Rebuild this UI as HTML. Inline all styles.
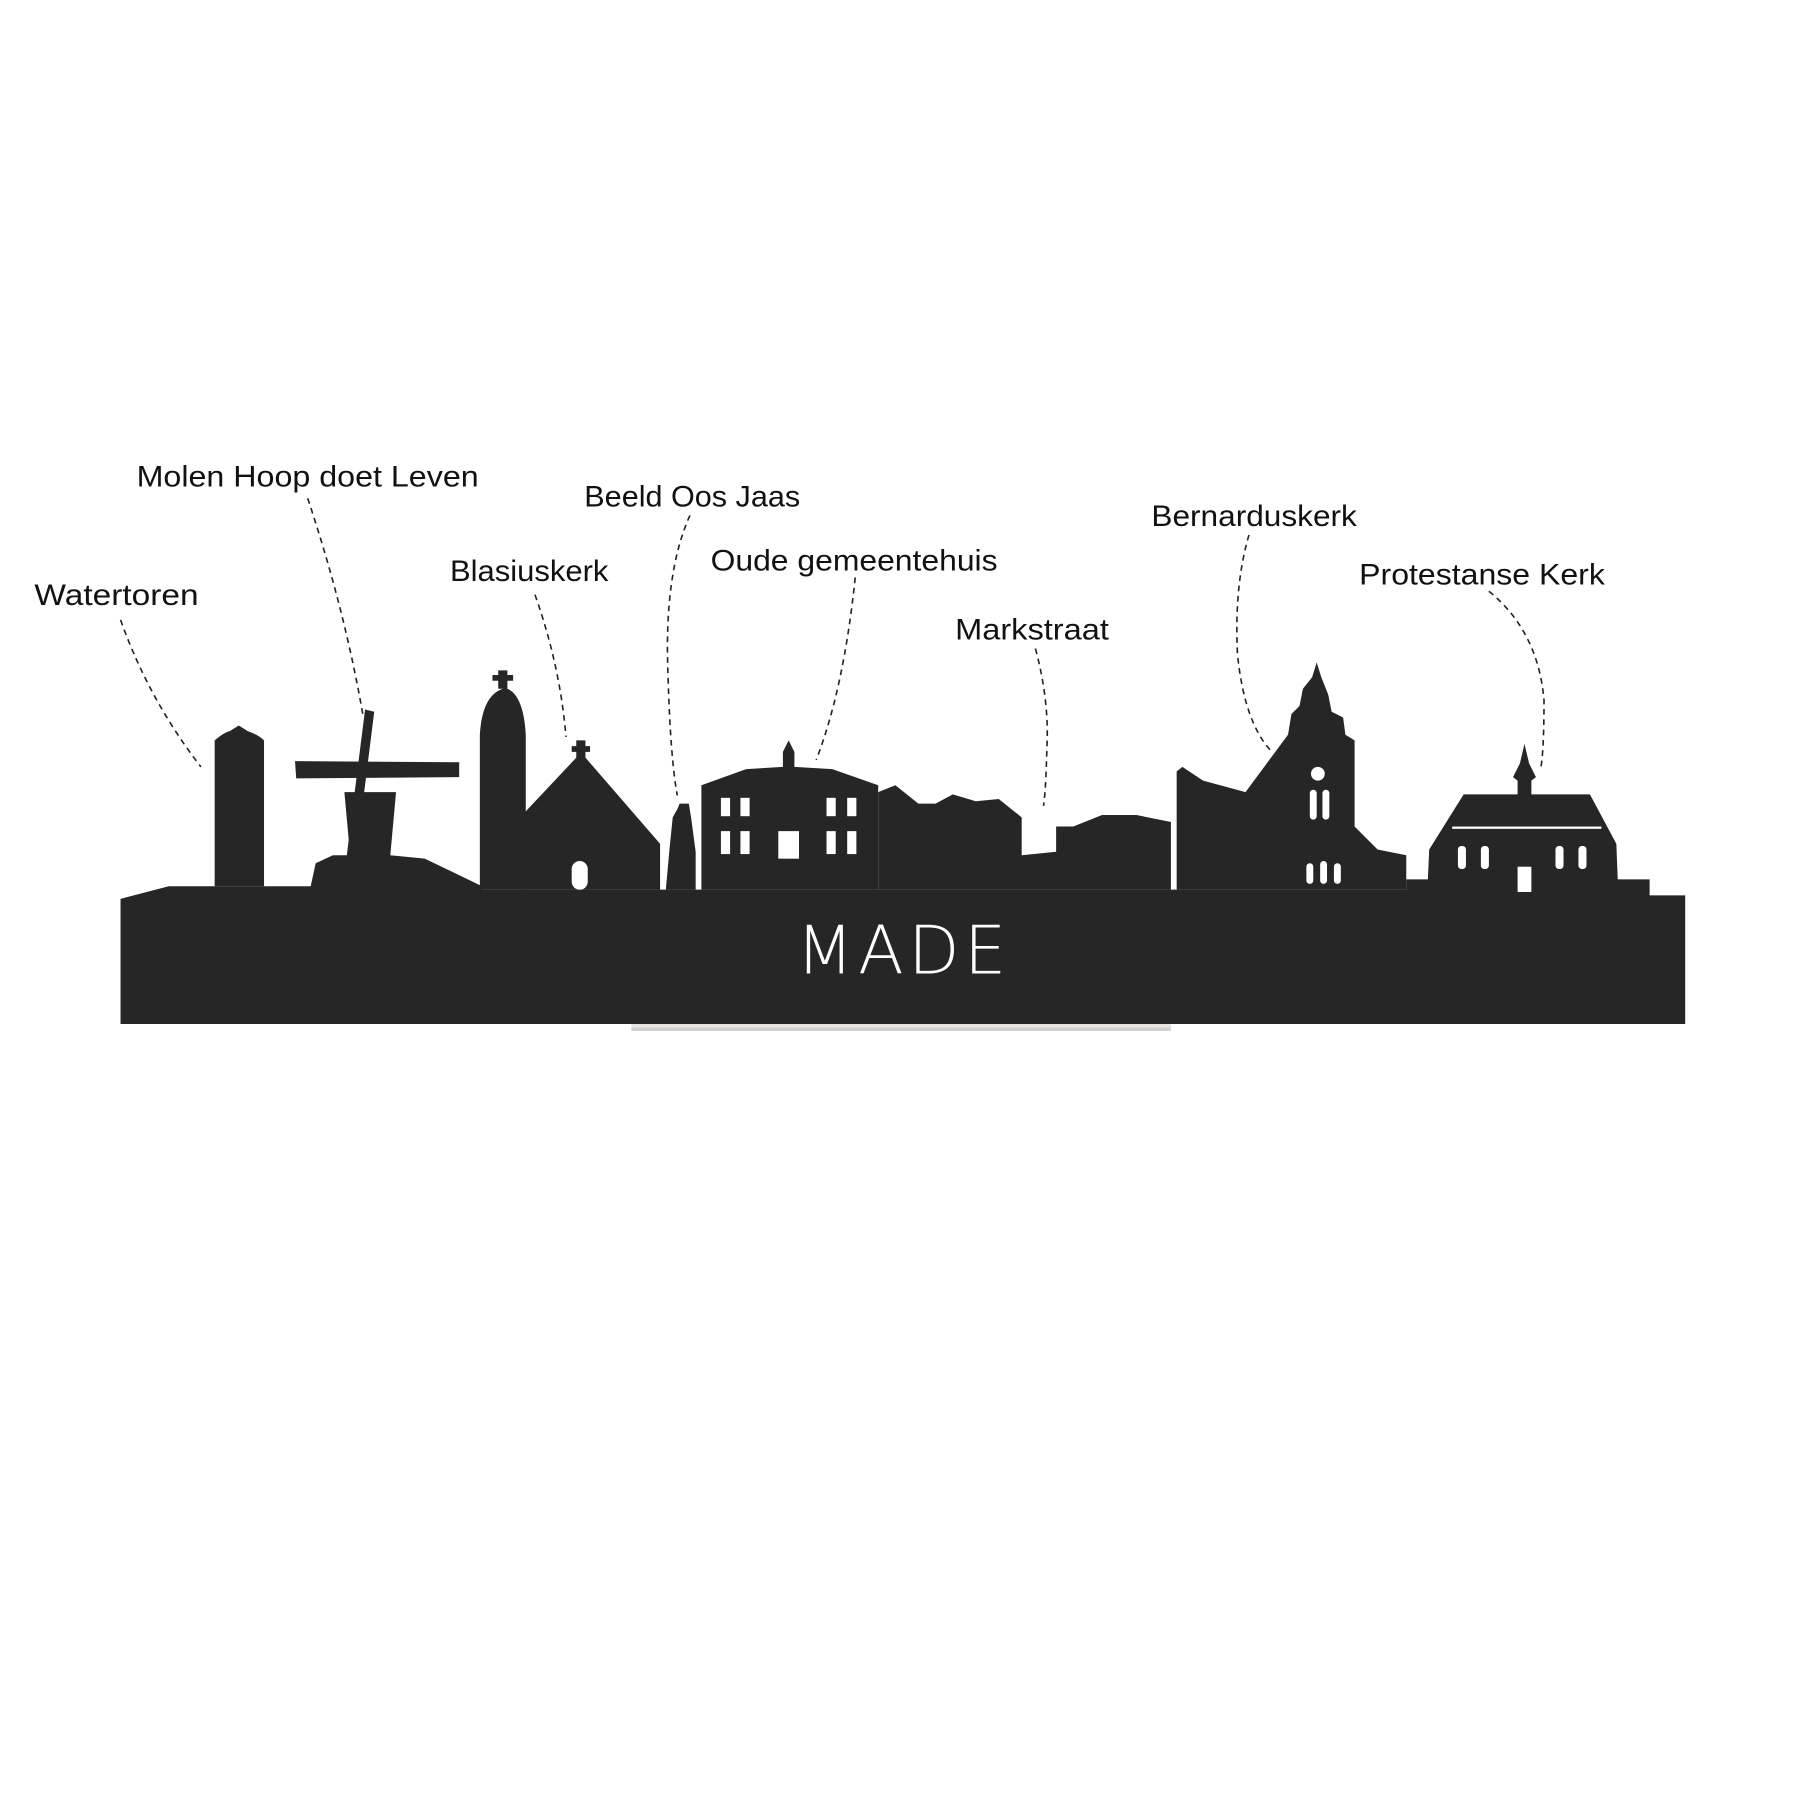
<!DOCTYPE html>
<html><head><meta charset="utf-8"><style>html,body{margin:0;padding:0;background:#fff}svg{display:block}</style></head>
<body>
<svg width="1800" height="1800" viewBox="0 0 1568 1568" xmlns="http://www.w3.org/2000/svg">
<g font-family="Liberation Sans, sans-serif" font-size="26" fill="#111" lengthAdjust="spacingAndGlyphs">
<text x="30" y="527" textLength="143" lengthAdjust="spacingAndGlyphs">Watertoren</text>
<text x="119" y="424" textLength="298" lengthAdjust="spacingAndGlyphs">Molen Hoop doet Leven</text>
<text x="509" y="441" textLength="188" lengthAdjust="spacingAndGlyphs">Beeld Oos Jaas</text>
<text x="392" y="506" textLength="138" lengthAdjust="spacingAndGlyphs">Blasiuskerk</text>
<text x="619" y="497" textLength="250" lengthAdjust="spacingAndGlyphs">Oude gemeentehuis</text>
<text x="832" y="557" textLength="134" lengthAdjust="spacingAndGlyphs">Markstraat</text>
<text x="1003" y="458" textLength="179" lengthAdjust="spacingAndGlyphs">Bernarduskerk</text>
<text x="1184" y="509" textLength="214" lengthAdjust="spacingAndGlyphs">Protestanse Kerk</text>
</g>
<g fill="none" stroke="#222" stroke-width="1.4" stroke-dasharray="5,4">
<path d="M105 540 Q130 610 175 668"/>
<path d="M268 434 Q300 530 316 622"/>
<path d="M466 518 Q488 580 493 642"/>
<path d="M601 449 Q578 500 582 590 Q584 660 590 693"/>
<path d="M745 503 Q735 600 711 662"/>
<path d="M902 565 Q914 610 912 650 Q911 690 909 702"/>
<path d="M1088 466 Q1075 510 1078 570 Q1084 630 1108 655"/>
<path d="M1297 515 Q1340 550 1345 610 Q1345 655 1342 670"/>
</g>
<rect x="550" y="884" width="470" height="14" fill="#e9e4e2"/>
<rect x="550" y="895" width="470" height="3" fill="#cfcfcf"/>
<g fill="#262626">
<path d="M105 783 L147 772 L420 772 L420 775 L1225 775 L1225 766 L1437 766 L1437 780 L1468 780 L1468 892 L105 892 Z"/>
<path d="M187 772 L187 645 Q195 638 200 637 L208 632 L216 637 Q225 640 230 645 L230 772 Z"/>
<path d="M270 775 L275 752 L290 745 L305 745 L300 690 L345 690 L340 745 L370 748 L420 772 L420 775 Z"/>
<path d="M318 618 L326 620 L310 748 L302 746 Z"/>
<path d="M257 663 L400 664 L400 677 L258 678 Z"/>
<path d="M418 775 L418 640 Q420 606 438 600 L434 600 L434 593 L429 593 L429 588 L434 588 L434 584 L442 584 L442 588 L447 588 L447 593 L442 593 L442 600 Q456 606 458 640 L458 775 Z"/>
<path d="M455 775 L455 710 L502 660 L502 655 L498 655 L498 650 L502 650 L502 645 L510 645 L510 650 L514 650 L514 655 L510 655 L510 660 L575 735 L575 775 Z"/>
<path d="M580 775 L583 742 L586 712 L590 705 L592 700 L600 700 L602 712 L606 742 L606 775 Z"/>
<path d="M611 775 L611 684 L650 670 L682 668 L682 655 L687 645 L692 655 L692 668 L725 670 L765 684 L765 775 Z"/>
<path d="M765 775 L765 690 L780 684 L800 700 L815 700 L830 692 L850 698 L870 696 L890 712 L890 745 L920 742 L920 720 L935 720 L960 710 L990 710 L1020 716 L1020 775 Z"/>
<path d="M1025 775 L1025 672 L1030 668 L1048 680 L1085 690 L1122 640 L1125 622 L1132 615 L1135 600 L1143 590 L1147 577 L1151 590 L1157 605 L1160 620 L1170 625 L1172 640 L1180 645 L1180 720 L1200 740 L1225 745 L1225 775 Z"/>
<path d="M1243 785 L1245 740 L1275 692 L1322 692 L1322 680 L1318 677 L1324 665 L1328 648 L1332 665 L1338 677 L1334 680 L1334 692 L1385 692 L1408 735 L1410 785 Z"/>
</g>
<g fill="#fff">
<rect x="628" y="695" width="8" height="16"/><rect x="645" y="695" width="8" height="16"/><rect x="720" y="695" width="8" height="16"/><rect x="738" y="695" width="8" height="16"/>
<rect x="628" y="724" width="8" height="20"/><rect x="645" y="724" width="8" height="20"/><rect x="720" y="724" width="8" height="20"/><rect x="738" y="724" width="8" height="20"/>
<rect x="678" y="724" width="18" height="24"/>
<rect x="498" y="750" width="14" height="25" rx="7"/>
<circle cx="1148" cy="674" r="6"/><rect x="1141" y="688" width="6" height="26" rx="3"/><rect x="1152" y="688" width="6" height="26" rx="3"/>
<rect x="1138" y="752" width="6" height="18" rx="3"/><rect x="1150" y="750" width="6" height="20" rx="3"/><rect x="1162" y="752" width="6" height="18" rx="3"/>
<rect x="1265" y="720" width="130" height="2"/>
<rect x="1270" y="737" width="7" height="20" rx="3"/><rect x="1290" y="737" width="7" height="20" rx="3"/><rect x="1355" y="737" width="7" height="20" rx="3"/><rect x="1375" y="737" width="7" height="20" rx="3"/>
<rect x="1322" y="755" width="12" height="22"/>
</g>
<text x="787" y="848" text-anchor="middle" font-family="DejaVu Sans, sans-serif" font-weight="200" font-size="58" fill="#fff" letter-spacing="4">MADE</text>
</svg>
</body></html>
